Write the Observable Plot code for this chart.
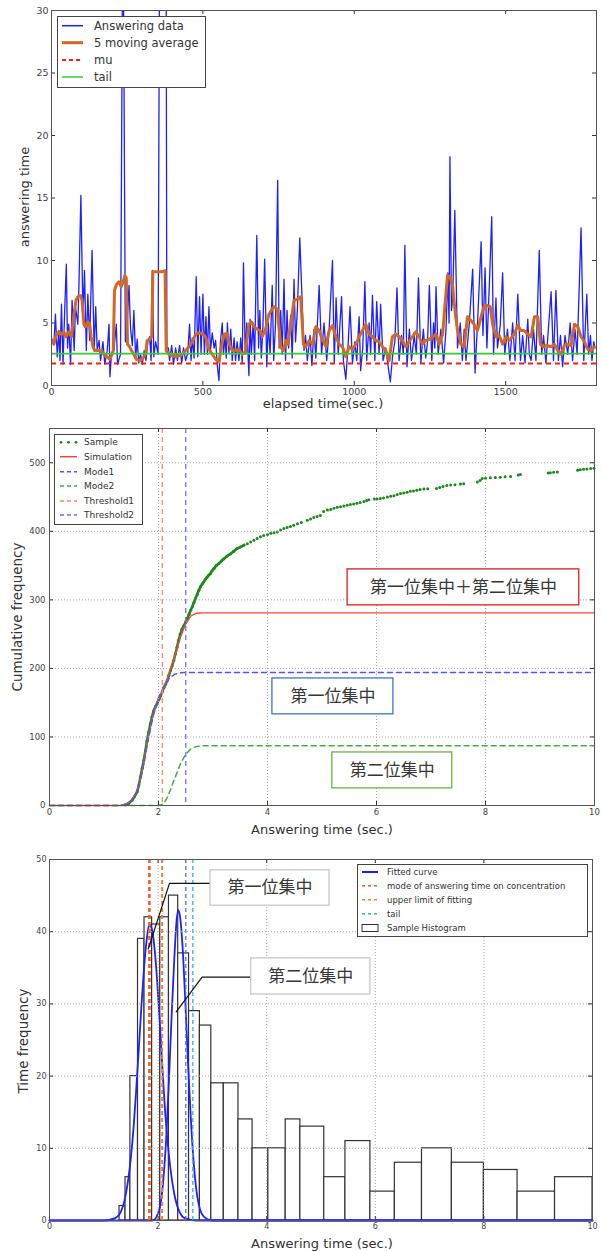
<!DOCTYPE html>
<html><head><meta charset="utf-8">
<script src="https://cdn.jsdelivr.net/npm/d3@7"></script>
<script src="https://cdn.jsdelivr.net/npm/@observablehq/plot@0.6"></script>
<style>
body{margin:0;background:#fff;}
#wrap{position:relative;width:602px;height:1251px;overflow:hidden;font-family:"DejaVu Sans",sans-serif;}
.panel{position:absolute;left:0;}
.title{position:absolute;color:#333;white-space:nowrap;transform:translate(-50%,-50%);}
.ytitle{position:absolute;color:#333;white-space:nowrap;transform:translate(-50%,-50%) rotate(-90deg);}
.legend{position:absolute;}
</style></head>
<body><div id="wrap"></div>
<script>
// ---------- Panel 1 data ----------
const answering = [[0,3.8],[8,3.3],[13,5.7],[19,2.3],[24,4.4],[28,2.0],[33,6.5],[38,1.7],[44,6.3],[49,9.7],[53,3.0],[57,4.9],[63,1.7],[68,6.8],[75,2.8],[79,6.3],[87,4.9],[90,7.3],[97,15.2],[104,5.5],[109,9.2],[115,2.8],[120,7.3],[126,3.6],[134,10.8],[141,2.8],[146,6.3],[151,2.8],[157,3.6],[162,2.0],[170,3.5],[176,1.7],[184,2.8],[190,4.9],[193,0.7],[198,2.5],[206,2.8],[214,4.9],[218,1.7],[228,2.5],[236,40],[244,3.5],[250,5.0],[256,8.0],[261,4.6],[267,3.2],[272,6.0],[278,2.2],[283,3.7],[288,1.8],[294,2.5],[300,1.7],[306,2.8],[312,2.0],[318,3.5],[324,3.9],[329,2.0],[333,9.2],[338,2.3],[344,3.5],[352,2.5],[358,42],[366,40],[378,42],[381,3.0],[386,3.0],[390,2.0],[397,3.2],[403,1.7],[410,3.0],[416,2.0],[423,3.2],[430,1.8],[436,3.0],[443,2.0],[450,2.6],[456,4.9],[461,2.0],[465,3.8],[471,2.2],[478,8.7],[483,2.3],[489,7.1],[494,2.5],[500,7.3],[505,2.5],[510,5.5],[515,2.5],[520,6.3],[525,2.8],[531,4.2],[537,3.0],[542,3.6],[548,1.5],[553,0.4],[558,3.5],[564,5.0],[568,2.5],[573,4.0],[577,2.2],[581,5.0],[586,2.6],[592,4.5],[597,2.0],[603,3.8],[608,2.0],[613,3.5],[619,2.0],[625,3.8],[630,1.8],[634,9.8],[640,2.5],[645,5.0],[649,2.5],[652,0.8],[656,5.3],[660,2.5],[666,5.0],[671,2.0],[678,12.0],[684,3.0],[688,6.0],[693,2.2],[698,4.5],[704,10.1],[711,1.5],[716,5.0],[722,2.5],[729,8.0],[734,2.0],[740,5.0],[747,16.4],[752,3.0],[757,6.0],[762,2.5],[768,8.5],[773,2.0],[778,6.0],[783,3.0],[790,5.6],[795,2.2],[801,8.5],[806,3.5],[812,6.0],[820,11.8],[834,2.8],[839,4.0],[845,2.0],[854,4.0],[860,1.6],[867,4.5],[873,2.2],[884,8.0],[892,2.5],[900,5.0],[909,2.0],[917,4.5],[928,10.0],[934,1.8],[940,7.0],[947,2.5],[958,7.1],[964,2.0],[972,0.5],[979,3.0],[986,6.3],[994,1.8],[1002,3.5],[1008,2.0],[1016,5.5],[1021,1.2],[1028,3.0],[1035,8.3],[1041,2.0],[1049,5.0],[1054,2.5],[1060,7.2],[1068,2.0],[1074,6.7],[1082,2.5],[1087,6.5],[1095,2.0],[1104,3.0],[1112,1.5],[1119,0.3],[1127,2.5],[1134,3.5],[1141,7.8],[1148,2.0],[1156,4.0],[1162,2.5],[1167,11.2],[1174,1.5],[1182,4.5],[1189,2.0],[1198,4.0],[1205,2.5],[1212,8.6],[1220,1.8],[1228,4.5],[1236,2.2],[1242,3.5],[1248,8.0],[1256,2.0],[1262,5.0],[1266,3.0],[1270,7.9],[1277,2.5],[1286,4.5],[1295,1.8],[1303,4.5],[1309,9.0],[1313,5.0],[1316,18.3],[1321,6.0],[1325,7.0],[1332,14.0],[1341,3.0],[1350,5.0],[1357,2.0],[1363,4.5],[1369,2.0],[1380,5.0],[1391,9.3],[1399,1.0],[1408,5.5],[1419,11.5],[1425,4.0],[1432,9.4],[1438,3.0],[1446,8.0],[1454,13.5],[1460,2.5],[1468,7.0],[1473,3.0],[1482,4.8],[1490,9.0],[1497,2.5],[1506,4.5],[1514,2.0],[1523,5.0],[1531,2.0],[1540,7.3],[1549,2.0],[1556,4.0],[1564,1.8],[1573,5.3],[1578,2.5],[1584,2.0],[1592,4.5],[1600,2.0],[1611,10.8],[1619,2.5],[1625,4.0],[1633,1.8],[1641,4.5],[1650,7.5],[1658,2.0],[1666,7.6],[1674,2.0],[1681,4.0],[1688,1.5],[1696,4.0],[1705,2.5],[1713,5.0],[1721,2.0],[1729,4.5],[1736,2.5],[1749,12.6],[1758,2.0],[1768,7.3],[1774,2.5],[1780,4.0],[1785,2.0],[1791,3.5],[1795,3.0]];
const movingAverage = [[0,3.6],[8,3.3],[15,4.0],[24,4.3],[33,4.1],[41,4.3],[48,3.9],[57,4.3],[66,3.9],[74,5.7],[81,6.8],[87,7.1],[96,7.2],[101,6.8],[107,4.9],[112,4.7],[120,5.1],[126,4.9],[131,3.9],[137,3.1],[143,2.8],[151,2.8],[159,2.8],[167,2.7],[176,2.4],[184,2.3],[192,2.1],[198,2.4],[204,2.8],[208,7.6],[215,8.1],[223,8.3],[230,7.9],[237,8.3],[242,8.8],[247,8.6],[251,3.3],[258,3.1],[264,2.8],[272,2.5],[280,2.1],[289,2.0],[300,2.1],[311,2.5],[316,3.6],[324,3.7],[331,3.9],[335,9.1],[349,9.1],[366,9.1],[375,9.2],[379,2.8],[388,2.5],[399,2.4],[410,2.3],[421,2.4],[432,2.5],[443,2.8],[454,3.1],[465,3.5],[474,4.0],[483,4.2],[493,4.2],[504,4.0],[509,3.9],[520,2.9],[531,2.5],[542,2.1],[553,1.9],[561,3.1],[570,4.1],[579,4.2],[587,3.3],[597,2.8],[608,2.8],[619,2.9],[630,2.5],[641,2.7],[652,4.9],[660,5.1],[669,4.7],[680,4.5],[689,4.4],[696,3.9],[707,4.5],[718,5.7],[726,6.0],[735,6.3],[746,6.1],[757,3.1],[766,2.8],[774,3.6],[781,3.3],[790,4.9],[801,6.8],[812,6.9],[823,7.1],[832,3.3],[839,3.1],[851,3.6],[862,3.3],[873,4.7],[884,4.4],[891,3.9],[906,3.1],[917,4.4],[928,4.8],[939,3.9],[950,3.3],[961,3.1],[972,2.3],[983,3.1],[994,2.9],[1005,3.3],[1016,3.9],[1027,4.4],[1038,4.9],[1049,4.1],[1060,3.9],[1071,3.6],[1082,3.5],[1093,3.1],[1104,2.8],[1115,2.0],[1126,3.9],[1137,4.1],[1148,3.9],[1159,3.6],[1170,3.1],[1181,3.5],[1192,3.9],[1203,4.3],[1214,3.9],[1225,3.3],[1236,3.6],[1248,3.7],[1259,3.9],[1270,4.1],[1280,3.3],[1292,4.1],[1299,6.3],[1308,8.8],[1316,8.7],[1325,7.9],[1334,5.7],[1341,4.4],[1352,3.3],[1363,3.1],[1374,5.5],[1385,5.2],[1396,4.9],[1407,4.4],[1419,5.5],[1428,6.3],[1438,6.4],[1449,6.3],[1457,4.9],[1468,3.9],[1479,4.0],[1490,3.3],[1501,3.9],[1512,3.6],[1528,4.1],[1540,4.8],[1550,4.4],[1561,4.4],[1573,4.1],[1584,3.9],[1595,5.5],[1606,5.5],[1615,3.3],[1625,3.1],[1636,3.2],[1650,3.1],[1661,3.3],[1672,2.8],[1683,2.5],[1694,3.2],[1705,3.3],[1716,3.2],[1727,4.9],[1738,4.7],[1749,3.9],[1760,3.5],[1771,2.9],[1782,2.8],[1793,3.1]];
const muValue = 1.77;
const tailValue = 2.55;
const xTicks1 = [0, 500, 1000, 1500];
const yTicks1 = [0, 5, 10, 15, 20, 25, 30];

// ---------- Panel 2 data ----------
const sampleCum = [[1.39,1],[1.45,3],[1.52,8],[1.56,13],[1.61,20],[1.64,30],[1.67,42],[1.70,54],[1.73,66],[1.76,80],[1.79,95],[1.82,107],[1.85,119],[1.88,129],[1.91,138],[1.95,145],[1.98,150],[2.01,155],[2.04,160],[2.07,166],[2.10,172],[2.13,177],[2.16,182],[2.19,190],[2.22,197],[2.25,204],[2.28,212],[2.31,221],[2.34,231],[2.37,241],[2.40,250],[2.43,257],[2.47,263],[2.50,268],[2.53,273],[2.56,279],[2.59,285],[2.62,290],[2.65,296],[2.68,302],[2.71,308],[2.74,314],[2.77,319],[2.80,323],[2.83,326],[2.86,330],[2.89,333],[2.92,336],[2.95,338],[2.98,342],[3.02,346],[3.06,350],[3.11,353],[3.16,357],[3.20,360],[3.26,364],[3.32,367],[3.38,371],[3.44,375],[3.50,377],[3.57,380],[3.63,382],[3.69,384.5],[3.75,387],[3.81,389.5],[3.87,392],[3.93,394],[4.00,395.5],[4.06,397],[4.12,398],[4.18,399],[4.24,402],[4.30,404],[4.36,405.5],[4.42,407],[4.48,409],[4.55,411],[4.62,413],[4.73,416],[4.79,418],[4.85,420],[4.91,421.5],[4.97,423],[5.03,429],[5.10,431],[5.16,432],[5.22,433.5],[5.28,435],[5.34,436],[5.40,437],[5.46,438],[5.52,439],[5.58,440],[5.64,441],[5.70,442],[5.77,443.6],[5.82,445],[5.86,446],[5.96,447],[6.01,447],[6.07,448],[6.13,448.7],[6.20,450],[6.26,451],[6.32,452],[6.38,453.6],[6.44,455],[6.50,456],[6.56,457],[6.62,458.5],[6.68,459],[6.74,460],[6.80,461],[6.87,461.7],[6.94,462],[7.10,462.3],[7.16,464],[7.22,465.5],[7.29,467],[7.36,467.5],[7.44,468],[7.54,469],[7.60,469.5],[7.85,472],[7.90,474],[7.94,477],[8.00,477.5],[8.09,478],[8.18,478.5],[8.27,479],[8.36,479.5],[8.46,480],[8.60,482],[8.64,483],[9.15,485],[9.19,485.3],[9.25,486],[9.32,486.5],[9.69,489],[9.74,490],[9.80,490.5],[9.86,491],[9.93,491.5],[9.99,492]];
const simulation = [[0,0],[1.3,0],[1.4,2],[1.5,7],[1.6,20],[1.7,50],[1.8,95],[1.9,133],[2.0,155],[2.1,172],[2.2,193],[2.3,218],[2.4,245],[2.5,265],[2.6,277],[2.7,280.5],[2.8,281],[10,281]];
const mode1 = [[0,0],[1.3,0],[1.4,2],[1.5,7],[1.6,20],[1.7,48],[1.8,92],[1.9,130],[2.0,157],[2.1,174],[2.2,186],[2.3,191.5],[2.4,193.5],[2.5,194],[10,194]];
const mode2 = [[0,0],[2.0,0],[2.05,1],[2.1,3],[2.16,12],[2.22,23],[2.28,36],[2.34,48],[2.4,60],[2.5,75],[2.6,83],[2.7,86],[2.8,87],[10,87]];
const threshold1 = 2.07;
const threshold2 = 2.5;
const xTicks2 = [0, 2, 4, 6, 8, 10];
const yTicks2 = [0, 100, 200, 300, 400, 500];

// ---------- Panel 3 data ----------
const binEdges = [1.29,1.40,1.49,1.63,1.75,1.89,2.04,2.20,2.37,2.57,2.77,2.98,3.21,3.48,3.74,4.03,4.35,4.62,5.06,5.45,5.91,6.36,6.86,7.41,8.00,8.62,9.31,10.0];
const binCounts = [2,6,20,39,42,41,42,45,37,29,27,19,19,14,10,10,14,13,6,11,4,8,10,8,7,4,6];
const fit1 = [[0,0],[1.0,0],[1.2,0.3],[1.3,1.0],[1.4,3.4],[1.5,8.8],[1.55,13],[1.6,18.5],[1.65,24.5],[1.7,30.5],[1.75,35.8],[1.8,39.5],[1.84,41],[1.88,40.5],[1.93,38],[1.98,33.5],[2.03,27.5],[2.08,21],[2.13,15],[2.2,9],[2.3,3.6],[2.4,1.1],[2.5,0.3],[2.7,0],[10,0]];
const fit2 = [[0,0],[1.9,0],[2.0,1],[2.05,2.5],[2.1,6],[2.15,11.5],[2.2,19.5],[2.25,28.5],[2.3,36.5],[2.34,41.5],[2.37,43],[2.4,42.3],[2.45,38],[2.5,30.5],[2.55,22],[2.6,14.5],[2.65,8.5],[2.7,4.5],[2.8,1],[2.9,0.2],[3.0,0],[10,0]];
const modeLine = 1.84;
const upperLimit = 2.075;
const modeLine2 = 2.51;
const tailLine = 2.64;
const xTicks3 = [0, 2, 4, 6, 8, 10];
const yTicks3 = [0, 10, 20, 30, 40, 50];

// annotations
const notes2 = [
  {x1:5.47, x2:9.72, y1:292, y2:344.5, stroke:"#e8191d", text:"第一位集中＋第二位集中"},
  {x1:4.09, x2:6.31, y1:133, y2:185.4, stroke:"#4472c4", text:"第一位集中"},
  {x1:5.19, x2:7.39, y1:25, y2:77.4, stroke:"#70ad47", text:"第二位集中"}
];
const notes3 = [
  {x1:2.965, x2:5.157, y1:43.6, y2:48.5, text:"第一位集中"},
  {x1:3.715, x2:5.91, y1:31.3, y2:36.3, text:"第二位集中"}
];
const leader1 = [[2.965,46.7],[2.21,46.7],[1.818,37.6]];
const leader2 = [[3.715,33.7],[2.81,33.7],[2.333,28.9]];

// ---------- helpers ----------
const wrap = document.getElementById("wrap");
const plainFormat = d => `${d}`;
function frameTicks(xt, yt, w, h, len = 4) {
  return [
    Plot.tickX(xt, {x: d => d, insetTop: h - len, stroke: "#333"}),
    Plot.tickX(xt, {x: d => d, insetBottom: h - len, stroke: "#333"}),
    Plot.tickY(yt, {y: d => d, insetRight: w - len, stroke: "#333"}),
    Plot.tickY(yt, {y: d => d, insetLeft: w - len, stroke: "#333"})
  ];
}
function place(el, top) {
  el.classList.add("panel");
  el.style.top = top + "px";
  wrap.appendChild(el);
}
function addText(cls, text, cx, cy, size) {
  const d = document.createElement("div");
  d.className = cls;
  d.textContent = text;
  d.style.left = cx + "px";
  d.style.top = cy + "px";
  d.style.fontSize = size + "px";
  wrap.appendChild(d);
}
function legend(left, top, w, h, fontSize, sx1, sx2, tx, rows) {
  const ns = "http://www.w3.org/2000/svg";
  const svg = document.createElementNS(ns, "svg");
  svg.setAttribute("width", w); svg.setAttribute("height", h);
  svg.setAttribute("class", "legend");
  svg.style.left = left + "px"; svg.style.top = top + "px";
  const mk = (tag, attrs) => { const e = document.createElementNS(ns, tag); for (const k in attrs) e.setAttribute(k, attrs[k]); svg.appendChild(e); return e; };
  mk("rect", {x: 0.5, y: 0.5, width: w - 1, height: h - 1, fill: "white", stroke: "#444", "stroke-width": 1});
  for (const r of rows) {
    if (r.kind === "dots") {
      for (const cx of [sx1 + 1, (sx1 + sx2) / 2, sx2 - 1]) mk("circle", {cx, cy: r.y, r: 1.4, fill: r.color});
    } else if (r.kind === "box") {
      mk("rect", {x: sx1, y: r.y - 3.5, width: sx2 - sx1, height: 7, fill: "white", stroke: "#333", "stroke-width": 1});
    } else {
      mk("line", {x1: sx1, x2: sx2, y1: r.y, y2: r.y, stroke: r.color, "stroke-width": r.width || 1.5, "stroke-dasharray": r.dash || "none"});
    }
    const t = mk("text", {x: tx, y: r.y, "font-size": fontSize, "font-family": "DejaVu Sans", fill: "#333", "dominant-baseline": "central"});
    t.textContent = r.label;
  }
  wrap.appendChild(svg);
}
const toObj = a => a.map(([x, y]) => ({x, y}));

// ---------- Panel 1 ----------
const W1 = 602 - 51 - 6, H1 = 412 - 10 - 27;
const p1 = Plot.plot({
  width: 602, height: 412, marginTop: 10, marginBottom: 27, marginLeft: 51, marginRight: 6,
  style: {fontFamily: "DejaVu Sans", fontSize: "9.5px", color: "#444", background: "white"},
  x: {domain: [0, 1800], ticks: xTicks1, tickFormat: plainFormat, tickSize: 0, tickPadding: 3, label: null},
  y: {domain: [0, 30], ticks: yTicks1, tickFormat: plainFormat, tickSize: 0, tickPadding: 3, label: null},
  marks: [
    Plot.line(toObj(answering), {x: "x", y: "y", stroke: "#1f1fff", strokeWidth: 1.3, clip: true}),
    Plot.line(toObj(movingAverage), {x: "x", y: "y", stroke: "#d2691e", strokeWidth: 3, clip: true}),
    Plot.ruleY([muValue], {stroke: "#ff1a1a", strokeWidth: 2, strokeDasharray: "5,4"}),
    Plot.ruleY([tailValue], {stroke: "#33cc33", strokeWidth: 1.8}),
    ...frameTicks(xTicks1, yTicks1, W1, H1),
    Plot.frame({stroke: "#555"})
  ]
});
place(p1, 0);
addText("title", "elapsed time(sec.)", 323, 403, 13);
addText("ytitle", "answering time", 24, 197, 13);
legend(57, 16, 149, 72, 11.5, 5, 26, 37, [
  {y: 9.7, color: "#1f1fff", label: "Answering data"},
  {y: 26.7, color: "#d2691e", width: 3, label: "5 moving average"},
  {y: 44, color: "#ff1a1a", width: 2, dash: "4,3", label: "mu"},
  {y: 61, color: "#33cc33", label: "tail"}
]);

// ---------- Panel 2 ----------
const W2 = 602 - 49 - 8, H2 = 428 - 16 - 35;
const sampleObj = toObj(sampleCum);
const p2 = Plot.plot({
  width: 602, height: 428, marginTop: 16, marginBottom: 35, marginLeft: 49, marginRight: 8,
  style: {fontFamily: "DejaVu Sans", fontSize: "8.5px", color: "#444", background: "white"},
  x: {domain: [0, 10], ticks: xTicks2, tickFormat: plainFormat, tickSize: 0, tickPadding: 3, label: null},
  y: {domain: [0, 550], ticks: yTicks2, tickFormat: plainFormat, tickSize: 0, tickPadding: 4, label: null},
  marks: [
    Plot.line(sampleObj.filter(d => d.x <= 3.6), {x: "x", y: "y", stroke: "#1a8a1a", strokeWidth: 2.6}),
    Plot.dot(sampleObj, {x: "x", y: "y", r: 1.5, fill: "#1a8a1a"}),
    Plot.line(toObj(simulation), {x: "x", y: "y", stroke: "#ff4040", strokeWidth: 1.4}),
    Plot.line(toObj(mode1), {x: "x", y: "y", stroke: "#5555ff", strokeWidth: 1.5, strokeDasharray: "5,4"}),
    Plot.line(toObj(mode2), {x: "x", y: "y", stroke: "#44aa44", strokeWidth: 1.5, strokeDasharray: "5,4"}),
    Plot.ruleX([threshold1], {stroke: "#ff8a65", strokeWidth: 1.3, strokeDasharray: "5,4"}),
    Plot.ruleX([threshold2], {stroke: "#6f6fff", strokeWidth: 1.3, strokeDasharray: "5,4"}),
    Plot.ruleX(xTicks2, {x: d => d, stroke: "#aaa", strokeDasharray: "1,2"}),
    Plot.ruleY(yTicks2, {y: d => d, stroke: "#aaa", strokeDasharray: "1,2"}),
    Plot.rect(notes2, {x1: "x1", x2: "x2", y1: "y1", y2: "y2", fill: "white", stroke: "stroke", strokeWidth: 1.3}),
    Plot.text(notes2, {x: d => (d.x1 + d.x2) / 2, y: d => (d.y1 + d.y2) / 2, text: "text", fontSize: 17, fontFamily: "Noto Sans CJK JP", fill: "#383838"}),
    ...frameTicks(xTicks2, yTicks2, W2, H2),
    Plot.frame({stroke: "#555"})
  ]
});
place(p2, 412);
addText("title", "Answering time (sec.)", 322, 829, 13);
addText("ytitle", "Cumulative frequency", 17, 617, 13.5);
legend(54, 434, 89, 91, 9, 6, 23, 30, [
  {y: 8.3, kind: "dots", color: "#1a8a1a", label: "Sample"},
  {y: 22.7, color: "#ff4040", label: "Simulation"},
  {y: 37.7, color: "#5555ff", dash: "4,3", label: "Mode1"},
  {y: 52, color: "#44aa44", dash: "4,3", label: "Mode2"},
  {y: 67, color: "#ff8a65", dash: "4,3", label: "Threshold1"},
  {y: 81, color: "#6f6fff", dash: "4,3", label: "Threshold2"}
]);

// ---------- Panel 3 ----------
const W3 = 602 - 49 - 10, H3 = 411 - 19 - 31;
const bins = binCounts.map((c, i) => ({x1: binEdges[i], x2: binEdges[i + 1], y: c}));
const p3 = Plot.plot({
  width: 602, height: 411, marginTop: 19, marginBottom: 31, marginLeft: 49, marginRight: 10,
  style: {fontFamily: "DejaVu Sans", fontSize: "8px", color: "#444", background: "white"},
  x: {domain: [0, 10], ticks: xTicks3, tickFormat: plainFormat, tickSize: 0, tickPadding: 2.5, label: null},
  y: {domain: [0, 50], ticks: yTicks3, tickFormat: plainFormat, tickSize: 0, tickPadding: 3, label: null},
  marks: [
    Plot.rect(bins, {x1: "x1", x2: "x2", y1: 0, y2: "y", fill: "white", stroke: "#333", strokeWidth: 1.2}),
    Plot.line(toObj(fit1), {x: "x", y: "y", stroke: "#2020ff", strokeWidth: 1.8, curve: "monotone-x"}),
    Plot.line(toObj(fit2), {x: "x", y: "y", stroke: "#2020ff", strokeWidth: 1.8, curve: "monotone-x"}),
    Plot.ruleX([modeLine], {stroke: "#ff5a1f", strokeWidth: 2.6, strokeDasharray: "4,3"}),
    Plot.ruleX([upperLimit], {stroke: "#f07a3c", strokeWidth: 2, strokeDasharray: "4,3"}),
    Plot.ruleX([modeLine2], {stroke: "#4f6fff", strokeWidth: 1.3, strokeDasharray: "4,3"}),
    Plot.ruleX([tailLine], {stroke: "#3aa6ff", strokeWidth: 1.3, strokeDasharray: "4,3"}),
    Plot.ruleX(xTicks3, {x: d => d, stroke: "#aaa", strokeDasharray: "1,2"}),
    Plot.ruleY(yTicks3, {y: d => d, stroke: "#aaa", strokeDasharray: "1,2"}),
    Plot.line(toObj(leader1), {x: "x", y: "y", stroke: "#111", strokeWidth: 1.2}),
    Plot.line(toObj(leader2), {x: "x", y: "y", stroke: "#111", strokeWidth: 1.2}),
    Plot.rect(notes3, {x1: "x1", x2: "x2", y1: "y1", y2: "y2", fill: "white", stroke: "#c8c8c8", strokeWidth: 1.3}),
    Plot.text(notes3, {x: d => (d.x1 + d.x2) / 2, y: d => (d.y1 + d.y2) / 2, text: "text", fontSize: 17, fontFamily: "Noto Sans CJK JP", fill: "#383838"}),
    ...frameTicks(xTicks3, yTicks3, W3, H3),
    Plot.frame({stroke: "#555"})
  ]
});
place(p3, 840);
addText("title", "Answering time (sec.)", 322, 1243, 13);
addText("ytitle", "Time frequency", 23, 1041, 13.5);
legend(357, 864, 231, 73, 8.5, 5, 21, 30, [
  {y: 8, color: "#2020ff", width: 2, label: "Fitted curve"},
  {y: 21.7, color: "#ff5a1f", width: 1.5, dash: "3,3", label: "mode of answering time on concentration"},
  {y: 35.7, color: "#f07a3c", width: 1.5, dash: "3,3", label: "upper limit of fitting"},
  {y: 49.7, color: "#3aa6ff", width: 1.5, dash: "3,3", label: "tail"},
  {y: 64, kind: "box", label: "Sample Histogram"}
]);
</script></body></html>
